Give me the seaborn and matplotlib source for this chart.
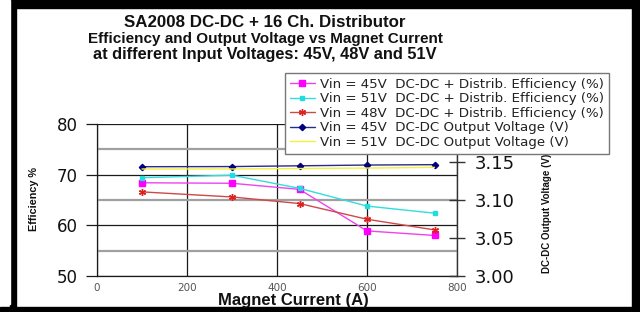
import matplotlib
matplotlib.use('Agg')
import matplotlib.pyplot as plt
import seaborn as sns
import pandas as pd
from matplotlib.patches import Rectangle
from matplotlib.lines import Line2D
from matplotlib.ticker import FixedLocator

# ---------------- data ----------------
current = [100, 300, 450, 600, 750]
eff_45 = [68.4, 68.3, 67.1, 58.9, 58.0]
eff_51 = [69.4, 69.9, 67.3, 63.8, 62.4]
eff_48 = [66.6, 65.6, 64.3, 61.2, 59.1]
vout_45 = [3.1438, 3.1440, 3.1450, 3.1460, 3.1465]
vout_51 = [3.1408, 3.1408, 3.1414, 3.1420, 3.1430]

labels = [
    "Vin = 45V  DC-DC + Distrib. Efficiency (%)",
    "Vin = 51V  DC-DC + Distrib. Efficiency (%)",
    "Vin = 48V  DC-DC + Distrib. Efficiency (%)",
    "Vin = 45V  DC-DC Output Voltage (V)",
    "Vin = 51V  DC-DC Output Voltage (V)",
]
title_lines = ["SA2008 DC-DC + 16 Ch. Distributor",
               "Efficiency and Output Voltage vs Magnet Current",
               "at different Input Voltages: 45V, 48V and 51V"]
x_ticks = [0, 200, 400, 600, 800]
y_ticks = [50, 60, 70, 80]
y2_ticks = [3.00, 3.05, 3.10, 3.15]

sns.set_style('white')
plt.rcParams['font.family'] = ['Liberation Sans', 'DejaVu Sans']

W, H = 640, 312
fig = plt.figure(figsize=(6.4, 3.12), dpi=100)
fig.patch.set_facecolor('white')

# black frame
for (x0, y0, w, h) in [(0, 0, 640, 8), (10, 0, 6, 312), (632, 0, 8, 312), (0, 307, 640, 5)]:
    fig.add_artist(Rectangle((x0 / W, 1 - (y0 + h) / H), w / W, h / H,
                             transform=fig.transFigure, color='black', zorder=0))
fig.add_artist(Rectangle((0, 8 / H), 10 / W, 1 - 8 / H,
                         transform=fig.transFigure, color='white', zorder=0))

ax = fig.add_axes([97 / W, 1 - 276 / H, 360 / W, 152 / H])
ax.set_facecolor('white')
ax2 = ax.twinx()

df_eff = pd.DataFrame({'x': current * 3,
                       'y': eff_45 + eff_51 + eff_48,
                       's': [labels[0]] * 5 + [labels[1]] * 5 + [labels[2]] * 5})
df_v = pd.DataFrame({'x': current * 2,
                     'y': vout_45 + vout_51,
                     's': [labels[3]] * 5 + [labels[4]] * 5})

styles = {
    labels[0]: dict(color='#EE44EE', mfc='#FF00FF', mec='#FF00FF', marker='s', ms=4.0),
    labels[1]: dict(color='#33DDDD', mfc='#22DDDD', mec='#22DDDD', marker='s', ms=3.4),
    labels[2]: dict(color='#D04848', mfc='#E02020', mec='#E02020', marker=(6, 2, 0), ms=5),
    labels[3]: dict(color='#2B2B8C', mfc='#000080', mec='#000080', marker='D', ms=3.2),
    labels[4]: dict(color='#F2F23A', marker=None, ms=0),
}

for lab in labels[:3]:
    st = styles[lab]
    sub = df_eff[df_eff.s == lab]
    sns.lineplot(data=sub, x='x', y='y', ax=ax, color=st['color'], lw=1.0,
                 marker=st['marker'], markersize=st['ms'],
                 markerfacecolor=st.get('mfc'), markeredgecolor=st.get('mec'),
                 markeredgewidth=1.0, legend=False, zorder=3)
for lab in labels[3:]:
    st = styles[lab]
    sub = df_v[df_v.s == lab]
    kw = {}
    if st['marker'] is not None:
        kw = dict(marker=st['marker'], markersize=st['ms'],
                  markerfacecolor=st['mfc'], markeredgecolor=st['mec'], markeredgewidth=1.0)
    sns.lineplot(data=sub, x='x', y='y', ax=ax2, color=st['color'], lw=1.0,
                 legend=False, zorder=3, **kw)

handles = []
for lab in labels:
    st = styles[lab]
    if st['marker'] is None:
        h = Line2D([], [], color=st['color'], lw=1.0)
    else:
        h = Line2D([], [], color=st['color'], lw=1.0, marker=st['marker'], markersize=st['ms'],
                   markerfacecolor=st['mfc'], markeredgecolor=st['mec'])
    handles.append(h)

# axes limits & ticks
ax.set_xlim(0, 800)
ax.set_ylim(50, 80)
ax.set_xticks(x_ticks)
ax.set_yticks(y_ticks)
ax.yaxis.set_minor_locator(FixedLocator([55, 65, 75]))
ax.set_xlabel('')
ax.set_ylabel('')
ax2.set_ylim(3.0, 3.2)
ax2.set_yticks(y2_ticks)
ax2.set_yticklabels([f"{v:.2f}" for v in y2_ticks])
ax2.set_ylabel('')

ax.grid(which='major', axis='both', color='#1a1a1a', lw=0.9)
ax.grid(which='minor', axis='y', color='#a0a0a0', lw=1.6)
ax.set_axisbelow(True)

ax.spines['top'].set_visible(False)
ax2.spines['top'].set_visible(False)
ax.spines['right'].set_visible(False)
ax2.spines['left'].set_visible(False)
ax2.spines['bottom'].set_visible(False)
for sp in ['left', 'bottom']:
    ax.spines[sp].set_color('#1a1a1a')
    ax.spines[sp].set_linewidth(0.9)
ax2.spines['right'].set_color('#333333')
ax2.spines['right'].set_linewidth(1.0)

ax.tick_params(axis='y', which='major', direction='out', length=8, width=0.9,
               color='#1a1a1a', pad=6, labelsize=12, labelcolor='#111111')
ax.tick_params(axis='y', which='minor', length=0)
ax.tick_params(axis='x', which='major', direction='out', length=3, width=0.9,
               color='#1a1a1a', pad=2, labelsize=7.5, labelcolor='#555555')
ax2.tick_params(axis='y', direction='inout', length=11, width=1.0, color='#333333',
                pad=7, labelsize=13, labelcolor='#111111')
for t in ax.get_yticklabels() + ax2.get_yticklabels() + ax.get_xticklabels():
    t.set_family(['DejaVu Sans'])

# titles
baselines = [27, 42.5, 59]
sizes = [12.2, 11.0, 11.8]
for line, y, s in zip(title_lines, baselines, sizes):
    fig.text(265 / W, 1 - y / H, line, ha='center', va='baseline',
             fontsize=s, fontweight='bold', color='#111111')

fig.text(293 / W, 1 - 305 / H, 'Magnet Current (A)', ha='center', va='baseline',
         fontsize=12, fontweight='bold', color='#111111')
fig.text(34 / W, 1 - 199 / H, 'Efficiency %', ha='center', va='center', rotation=90,
         fontsize=7.8, fontweight='bold', color='#111111')
fig.text(547 / W, 1 - 213 / H, 'DC-DC Output Voltage (V)', ha='center', va='center', rotation=90,
         fontsize=7.0, fontweight='bold', color='#111111')

leg = fig.legend(handles, labels, loc='upper left',
                 bbox_to_anchor=(285 / W, 1 - 73 / H), bbox_transform=fig.transFigure,
                 frameon=True, fancybox=False, edgecolor='#777777', framealpha=1,
                 prop={'family': 'DejaVu Sans', 'size': 9.6},
                 handlelength=1.9, handletextpad=0.4,
                 labelspacing=0.12, borderpad=0.35, borderaxespad=0)
leg.get_frame().set_linewidth(1.0)
for t in leg.get_texts():
    t.set_color('#222222')
leg.set_zorder(10)

fig.savefig('out.png', dpi=100, facecolor='white')
